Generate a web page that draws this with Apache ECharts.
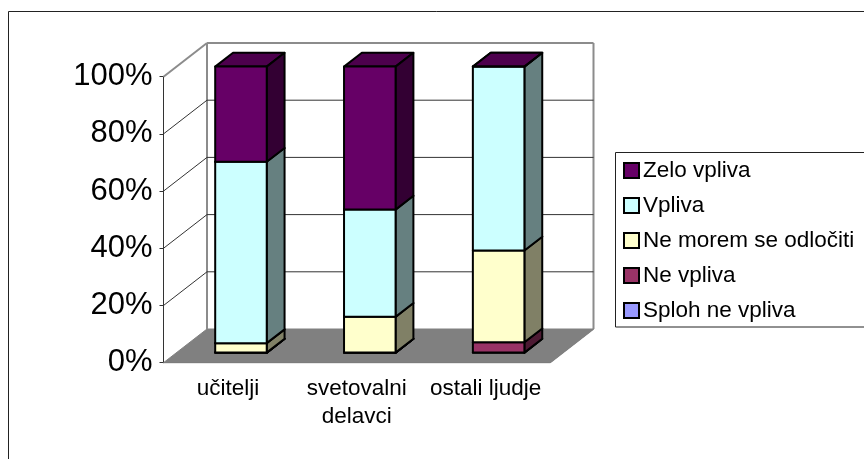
<!DOCTYPE html>
<html><head><meta charset="utf-8">
<script src="https://cdn.jsdelivr.net/npm/echarts@6/dist/echarts.min.js"></script>
<style>html,body{margin:0;padding:0;background:#fff}#c{width:864px;height:459px}</style>
</head><body><div id="c"></div>
<script>
var categories = ['učitelji', 'svetovalni\ndelavci', 'ostali ljudje'];
var yTicks = [0, 20, 40, 60, 80, 100];
var splohNeVpliva = [0, 0, 0];
var neVpliva = [0, 0, 3.6];
var neMorem = [3.3, 12.5, 32.1];
var vpliva = [63.4, 37.5, 64.3];
var zeloVpliva = [33.3, 50, 0];

var seriesDefs = [
  {name: 'Sploh ne vpliva', values: splohNeVpliva, front: '#9999FF', side: '#4d4d80', top: '#7373bf'},
  {name: 'Ne vpliva', values: neVpliva, front: '#993366', side: '#4d1a33', top: '#73264d'},
  {name: 'Ne morem se odločiti', values: neMorem, front: '#FFFFCC', side: '#808066', top: '#bfbf99'},
  {name: 'Vpliva', values: vpliva, front: '#CCFFFF', side: '#668080', top: '#99bfbf'},
  {name: 'Zelo vpliva', values: zeloVpliva, front: '#660066', side: '#330033', top: '#4d004d'}
];
var legendOrder = ['Zelo vpliva', 'Vpliva', 'Ne morem se odločiti', 'Ne vpliva', 'Sploh ne vpliva'];

// oblique projection of the 3D box
var DEPTH = [43.5, -33.7];
var BAR_START = 0.30, BAR_DEPTH = 0.41;

function shift(p, t) { return [p[0] + DEPTH[0] * t, p[1] + DEPTH[1] * t]; }

function wallItem(params, api) {
  var v = api.value(0);
  var g = api.coord([0, v]);
  var x0 = params.coordSys.x, x1 = x0 + params.coordSys.width;
  var a = [x0, g[1]], b = shift(a, 1), c = shift([x1, g[1]], 1);
  var kids = [];
  var isTop = v === yTicks[yTicks.length - 1], isBottom = v === yTicks[0];
  if (isBottom) {
    kids.push({type: 'polygon', shape: {points: [a, [x1, g[1]], c, b]}, style: {fill: '#808080', stroke: '#808080', lineWidth: 1}});
    var tb = shift([x0, params.coordSys.y], 1);
    kids.push({type: 'line', shape: {x1: b[0], y1: b[1], x2: tb[0], y2: tb[1]}, style: {stroke: '#8c8c8c', lineWidth: 2}});
    var tr = shift([x1, params.coordSys.y], 1);
    kids.push({type: 'line', shape: {x1: c[0], y1: c[1], x2: tr[0], y2: tr[1]}, style: {stroke: '#8c8c8c', lineWidth: 2}});
    kids.push({type: 'line', shape: {x1: x1, y1: g[1], x2: c[0], y2: c[1]}, style: {stroke: '#808080', lineWidth: 1.5}});
  } else {
    var col = isTop ? '#8c8c8c' : '#333333', w = isTop ? 2 : 1;
    kids.push({type: 'line', shape: {x1: a[0], y1: a[1], x2: b[0], y2: b[1]}, style: {stroke: col, lineWidth: w}});
    kids.push({type: 'line', shape: {x1: b[0], y1: b[1], x2: c[0], y2: c[1]}, style: {stroke: col, lineWidth: w}});
  }
  return {type: 'group', children: kids};
}

function barItem(def) {
  return function (params, api) {
    var cat = api.value(0), lo = api.value(1), hi = api.value(2);
    var w = api.size([1, 0])[0] * 0.4;
    var bl = shift(api.coord([cat, lo]), BAR_START), tl = shift(api.coord([cat, hi]), BAR_START);
    bl[0] -= w / 2; tl[0] -= w / 2;
    var br = [bl[0] + w, bl[1]], tr = [tl[0] + w, tl[1]];
    function back(p) { return shift(p, BAR_DEPTH); }
    var st = {stroke: '#000', lineWidth: 2, lineJoin: 'round'};
    function poly(pts, fill) { return {type: 'polygon', shape: {points: pts}, style: Object.assign({fill: fill}, st)}; }
    return {type: 'group', children: [
      poly([tl, tr, back(tr), back(tl)], def.top),
      poly([br, tr, back(tr), back(br)], def.side),
      poly([bl, br, tr, tl], def.front)
    ]};
  };
}

var series = [{
  type: 'custom', name: 'walls', silent: true, clip: false, z: 1,
  coordinateSystem: 'cartesian2d',
  encode: {y: 0},
  data: yTicks.map(function (t) { return [t]; }),
  renderItem: wallItem
}];
seriesDefs.forEach(function (def) {
  series.push({
    type: 'custom', name: def.name, clip: false, z: 3,
    coordinateSystem: 'cartesian2d',
    itemStyle: {color: def.front},
    encode: {x: 0, y: [1, 2]},
    data: def.values.map(function (v, i) {
      var base = 0;
      for (var k = 0; k < seriesDefs.length; k++) {
        if (seriesDefs[k] === def) break;
        base += seriesDefs[k].values[i];
      }
      return [i, base, base + v];
    }),
    renderItem: barItem(def)
  });
});

var font = '"Liberation Sans", Arial, sans-serif';
var chart = echarts.init(document.getElementById('c'), null, {renderer: 'canvas'});
chart.setOption({
  animation: false,
  backgroundColor: '#fff',
  textStyle: {fontFamily: font, color: '#000'},
  graphic: [{type: 'rect', shape: {x: 8.5, y: 11.5, width: 1000, height: 1000}, style: {fill: 'none', stroke: '#222', lineWidth: 1}, silent: true}],
  grid: {left: 163.5, top: 76.7, width: 386.5, height: 286},
  xAxis: {
    type: 'category', data: categories,
    axisLine: {lineStyle: {color: '#333', width: 1}, onZero: false},
    axisTick: {length: 5, lineStyle: {color: '#333'}},
    axisLabel: {fontSize: 22.5, lineHeight: 28, color: '#000', margin: 12, interval: 0, fontFamily: font},
    splitLine: {show: false}
  },
  yAxis: {
    type: 'value', min: 0, max: 100, interval: 20,
    axisLine: {show: true, lineStyle: {color: '#333', width: 1}},
    axisTick: {show: true, length: 4, lineStyle: {color: '#333'}},
    axisLabel: {fontSize: 31, color: '#000', margin: 11, padding: [4, 0, 0, 0], formatter: '{value}%', fontFamily: font},
    splitLine: {show: false}
  },
  legend: {
    show: true, orient: 'vertical', left: 615.5, top: 152.5,
    data: legendOrder,
    icon: 'rect', itemWidth: 15, itemHeight: 15, itemGap: 12,
    padding: [6.5, 120, 5, 7.5],
    borderColor: '#222', borderWidth: 1, backgroundColor: '#fff',
    selectedMode: false,
    itemStyle: {borderColor: '#000', borderWidth: 2},
    textStyle: {fontSize: 22.5, lineHeight: 20, color: '#000', padding: [0, 0, 0, -1], fontFamily: font}
  },
  series: series
});
</script></body></html>
